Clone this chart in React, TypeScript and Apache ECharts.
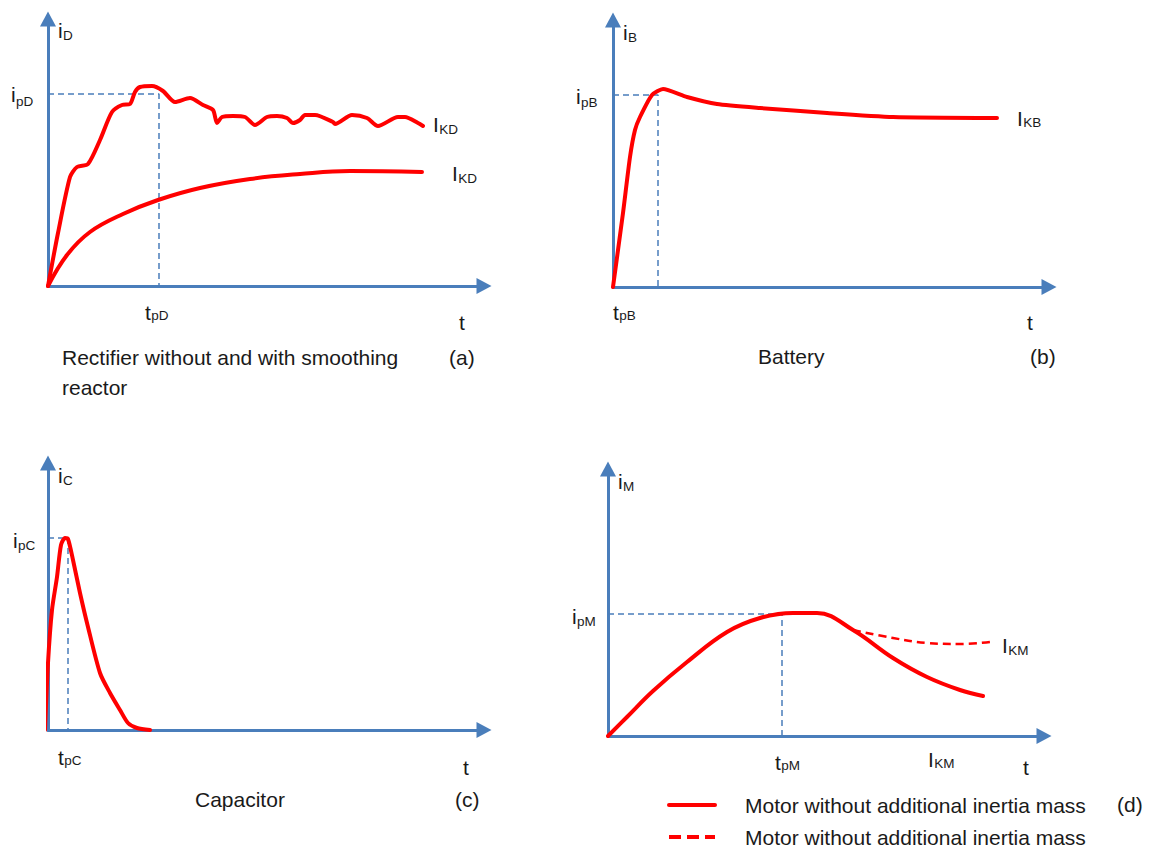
import React, { useEffect, useRef } from 'react';
import * as echarts from 'echarts';

// ---------- data (t, i) in arbitrary axis units ----------
// (a) Rectifier without smoothing reactor (rippled) and with smoothing reactor
const rectifierRipple: [number, number][] = [
  [0, 0], [10, 53], [22, 109], [29, 119], [40, 122], [52, 146], [64, 174], [74, 181],
  [82, 182], [87, 194], [92, 199], [104, 200], [115, 195], [127, 184], [142, 188],
  [155, 181], [165, 176], [169, 163], [174, 169], [185, 170], [197, 169], [207, 161],
  [219, 169], [229, 170], [239, 168], [245, 163], [252, 166], [257, 171], [267, 171],
  [285, 164], [287, 162], [304, 171], [319, 168], [330, 160], [350, 169], [357, 169],
  [370, 163], [375, 160],
];
const rectifierSmooth: [number, number][] = [
  [0, 0], [19, 31], [42, 54], [75, 72], [110, 86], [152, 98], [202, 107], [252, 112],
  [302, 115], [374, 114],
];
const rectifierPeak: [number, number][] = [[0, 192], [111, 192], [111, 0]];

// (b) Battery
const battery: [number, number][] = [
  [0, 0], [10, 74], [17, 130], [22, 157], [27, 170], [39, 192], [50, 198], [74, 190],
  [104, 183], [147, 179], [214, 174], [280, 170], [384, 169],
];
const batteryPeak: [number, number][] = [[0, 192], [45, 192], [45, 0]];

// (c) Capacitor
const capacitor: [number, number][] = [
  [-3, 0], [0, 67], [4, 120], [9, 153], [13, 185], [17, 192], [20, 191], [25, 170],
  [32, 137], [40, 103], [52, 57], [62, 37], [72, 20], [80, 7], [89, 2], [102, 0],
];
const capacitorPeak: [number, number][] = [[0, 192], [20, 192], [20, 0]];

// (d) Motor
const motorSolid: [number, number][] = [
  [0, 0], [19, 19], [45, 45], [79, 74], [119, 104], [152, 118], [185, 123], [209, 123],
  [245, 106], [285, 78], [319, 59], [352, 46], [375, 40],
];
const motorDashed: [number, number][] = [
  [245, 106], [285, 98], [319, 93], [352, 92], [382, 94],
];
const motorPeak: [number, number][] = [[0, 122], [174, 122], [174, 0]];

const legendNames = [
  'Motor without additional inertia mass',
  'Motor without additional inertia mass ',
];

// ---------- layout & style ----------
const X_LEN = 436;
const Y_LEN = 267;
const PANELS = [
  { left: 48, originY: 286 },
  { left: 613, originY: 287 },
  { left: 48, originY: 730 },
  { left: 608, originY: 736 },
];
const AXIS = '#4A7EBB';
const RED = '#FF0000';
const TXT = '#1a1a1a';
const FONT = "'Liberation Sans', Arial, sans-serif";
const FS = 21;
const SUB_FS = 13.5;
const GLYPH_W: Record<string, number> = { i: 0.222, I: 0.278, t: 0.278 };

function sym(x: number, base: number, main: string, sub: string, drop = 2): any[] {
  return [
    {
      type: 'text', x, y: base - 0.3465 * FS, silent: true,
      style: { text: main, fill: TXT, fontSize: FS, fontFamily: FONT, verticalAlign: 'middle' },
    },
    {
      type: 'text', x: x + GLYPH_W[main] * FS + 0.3, y: base + drop - 0.3465 * SUB_FS, silent: true,
      style: { text: sub, fill: TXT, fontSize: SUB_FS, fontFamily: FONT, verticalAlign: 'middle' },
    },
  ];
}
function txt(x: number, base: number, text: string): any {
  return {
    type: 'text', x, y: base - 0.3465 * FS, silent: true,
    style: { text, fill: TXT, fontSize: FS, fontFamily: FONT, verticalAlign: 'middle' },
  };
}

function curve(k: number, data: [number, number][], extra: any = {}): any {
  return {
    type: 'line', xAxisIndex: k, yAxisIndex: k, data, symbol: 'none', showSymbol: false,
    smooth: 0.3, clip: false, silent: true,
    lineStyle: { color: RED, width: 4, cap: 'round', join: 'round' },
    ...extra,
  };
}
function guide(k: number, data: [number, number][]): any {
  return {
    type: 'line', xAxisIndex: k, yAxisIndex: k, data, symbol: 'none', showSymbol: false,
    clip: false, silent: true, z: 1,
    lineStyle: { color: AXIS, width: 1.5, type: [6, 4] },
  };
}

export default function App() {
  const ref = useRef<HTMLDivElement>(null);
  useEffect(() => {
    if (!ref.current) return;
    const chart = echarts.init(ref.current, undefined, { renderer: 'svg' });
    const axisCommon = {
      type: 'value', min: 0,
      axisLine: {
        show: true, onZero: false, symbol: ['none', 'triangle'], symbolSize: [16, 15],
        lineStyle: { color: AXIS, width: 3 },
      },
      axisTick: { show: false }, axisLabel: { show: false }, splitLine: { show: false },
    };
    const option: any = {
      animation: false,
      backgroundColor: '#ffffff',
      grid: PANELS.map((p) => ({
        left: p.left, top: p.originY - Y_LEN, width: X_LEN, height: Y_LEN, containLabel: false,
      })),
      xAxis: PANELS.map((_, k) => ({ ...axisCommon, gridIndex: k, max: X_LEN })),
      yAxis: PANELS.map((_, k) => ({ ...axisCommon, gridIndex: k, max: Y_LEN })),
      legend: {
        show: true, orient: 'vertical', left: 667, top: 794.5, width: 440, height: 90, padding: 0,
        itemWidth: 46, itemHeight: 14, itemGap: 11, selectedMode: false,
        textStyle: { fontSize: FS, fontFamily: FONT, color: TXT, padding: [0, 0, 0, 25] },
        itemStyle: { opacity: 0 },
        data: [
          { name: legendNames[0], lineStyle: { width: 4, type: 'solid', color: RED } },
          { name: legendNames[1], lineStyle: { width: 4, type: [12, 6], color: RED } },
        ],
      },
      series: [
        guide(0, rectifierPeak),
        curve(0, rectifierRipple, { smooth: 0.25 }),
        curve(0, rectifierSmooth, { smooth: 0.4 }),
        guide(1, batteryPeak),
        curve(1, battery, { smooth: 0.2 }),
        guide(2, capacitorPeak),
        curve(2, capacitor, { smooth: 0.25 }),
        guide(3, motorPeak),
        curve(3, motorSolid, { name: legendNames[0], smooth: 0.4 }),
        curve(3, motorDashed, {
          name: legendNames[1], smooth: 0.4,
          lineStyle: { color: RED, width: 2.5, type: [8, 5] },
        }),
      ],
      graphic: [
        // (a)
        ...sym(58, 38, 'i', 'D'),
        ...sym(11, 102, 'i', 'pD', 4),
        ...sym(433, 132, 'I', 'KD'),
        ...sym(452, 181, 'I', 'KD'),
        ...sym(145, 320, 't', 'pD', 0),
        txt(459, 330, 't'),
        txt(62, 365, 'Rectifier without and with smoothing'),
        txt(62, 395, 'reactor'),
        txt(449, 365, '(a)'),
        // (b)
        ...sym(623, 40, 'i', 'B'),
        ...sym(576, 104, 'i', 'pB', 3),
        ...sym(1017, 126, 'I', 'KB', 1),
        ...sym(613, 320, 't', 'pB', 0),
        txt(1027, 330, 't'),
        txt(758, 364, 'Battery'),
        txt(1030, 364, '(b)'),
        // (c)
        ...sym(58, 483, 'i', 'C'),
        ...sym(13, 548, 'i', 'pC'),
        ...sym(58, 765, 't', 'pC', 0),
        txt(463, 775, 't'),
        txt(195, 807, 'Capacitor'),
        txt(455, 807, '(c)'),
        // (d)
        ...sym(618, 489, 'i', 'M'),
        ...sym(572, 624, 'i', 'pM'),
        ...sym(1002, 653, 'I', 'KM'),
        ...sym(775, 770, 't', 'pM', 0),
        ...sym(928, 767, 'I', 'KM', 1),
        txt(1023, 775, 't'),
        txt(1117, 812, '(d)'),
      ],
    };
    chart.setOption(option);
    return () => chart.dispose();
  }, []);
  return (
    <div
      ref={ref}
      style={{ position: 'absolute', left: 0, top: 0, width: 1151, height: 847, background: '#fff' }}
    />
  );
}
